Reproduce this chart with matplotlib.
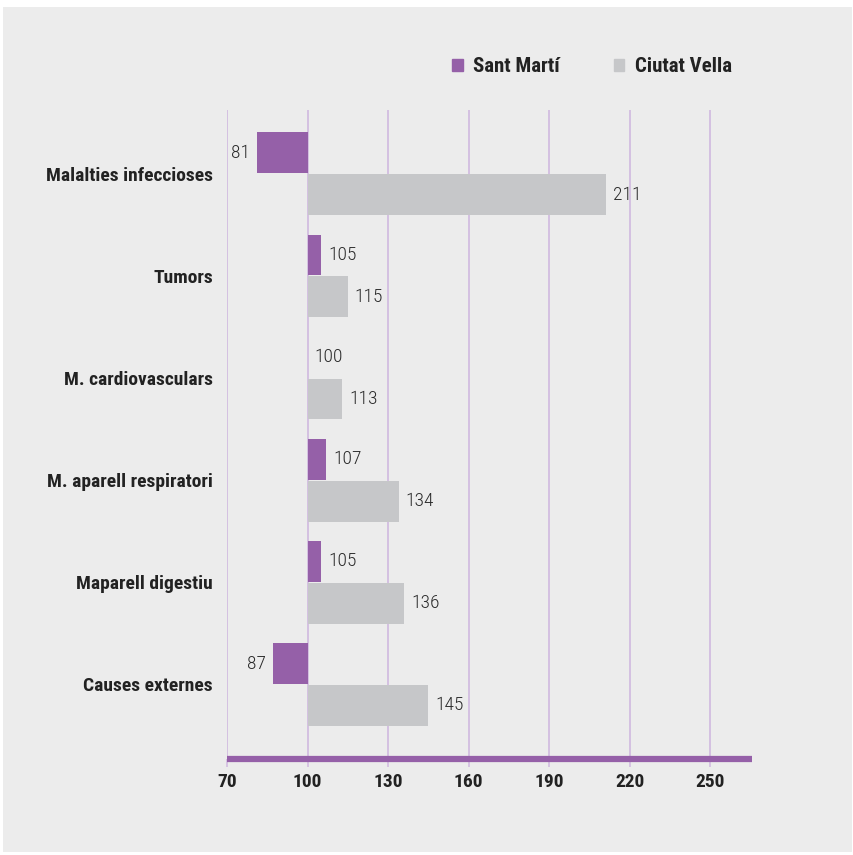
import matplotlib.pyplot as plt
from matplotlib.patches import Rectangle
import numpy as np

categories = ['Malalties infeccioses', 'Tumors', 'M. cardiovasculars',
              'M. aparell respiratori', 'Maparell digestiu', 'Causes externes']
sant_marti = [81, 105, 100, 107, 105, 87]
ciutat_vella = [211, 115, 113, 134, 136, 145]
series_names = ['Sant Martí', 'Ciutat Vella']
xticks = [70, 100, 130, 160, 190, 220, 250]
base = 100

purple = '#9560a8'
grey_bar = '#c6c7c9'
bg = '#ececec'
grid_col = '#d2bde0'

cond_font = ['Roboto Condensed', 'Liberation Sans Narrow', 'DejaVu Sans']

fig = plt.figure(figsize=(8.54, 8.55), dpi=100, facecolor='white')
# grey panel behind the chart
fig.patches.append(Rectangle((3 / 854, 1 - 852 / 855), 849 / 854, 845 / 855,
                             transform=fig.transFigure, facecolor=bg,
                             edgecolor='none', zorder=-10))

ax = fig.add_axes([227 / 854, 1 - 759 / 855, 525 / 854, 649 / 855])
ax.set_facecolor('none')
ax.set_zorder(2)

y = np.arange(len(categories))
h = 0.4
off = 0.205

sm_w = [v - base for v in sant_marti]
cv_w = [v - base for v in ciutat_vella]
ax.barh(y - off, sm_w, left=base, height=h, color=purple, zorder=3)
ax.barh(y + off, cv_w, left=base, height=h, color=grey_bar, zorder=3)

# value labels
lab = dict(va='center', fontsize=14, family=cond_font, stretch='condensed',
           fontweight='light', color='#2a2a2a', textcoords='offset points')
for yi, v in zip(y - off, sant_marti):
    if v < base:
        ax.annotate(str(v), (v, yi), xytext=(-5, 0), ha='right', **lab)
    else:
        ax.annotate(str(v), (v, yi), xytext=(5, 0), ha='left', **lab)
for yi, v in zip(y + off, ciutat_vella):
    ax.annotate(str(v), (v, yi), xytext=(5, 0), ha='left', **lab)

ax.set_xlim(70, 265.5)
ax.set_ylim(len(categories) - 1 + 0.73, -0.625)
ax.set_xticks(xticks)
ax.set_xticklabels([str(t) for t in xticks], fontsize=14, fontweight='bold',
                   family=cond_font, stretch='condensed', color='#222222')
ax.set_yticks(y)
ax.set_yticklabels(categories, fontsize=14, fontweight='bold',
                   family=cond_font, stretch='condensed', color='#222222')
ax.tick_params(axis='y', length=0, pad=10)
ax.tick_params(axis='x', length=6, width=1.2, color=grid_col, pad=4)

for t in xticks:
    ax.axvline(t, color=grid_col, lw=1.3, zorder=1)

for s in ['top', 'right', 'left']:
    ax.spines[s].set_visible(False)
ax.spines['bottom'].set_color(purple)
ax.spines['bottom'].set_linewidth(4.5)
ax.spines['bottom'].set_capstyle('butt')
ax.spines['bottom'].set_zorder(4)

handles = [Rectangle((0, 0), 1, 1, color=purple),
           Rectangle((0, 0), 1, 1, color=grey_bar)]
leg = fig.legend(handles, series_names, loc='center',
                 bbox_to_anchor=(592 / 854, 1 - 67 / 855), ncol=2,
                 frameon=False, handlelength=0.5, handleheight=0.5,
                 handletextpad=0.5, columnspacing=2.6,
                 prop={'family': cond_font, 'weight': 'bold', 'size': 15,
                       'stretch': 'condensed'})
for txt in leg.get_texts():
    txt.set_color('#222222')

fig.savefig('out.png', dpi=100, facecolor='white')
